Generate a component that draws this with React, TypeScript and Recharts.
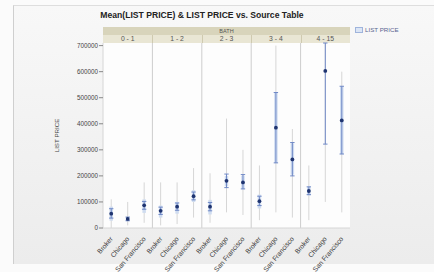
import React from "react";
import {
  ComposedChart,
  Scatter,
  ErrorBar,
  XAxis,
  YAxis,
  CartesianGrid,
  ReferenceLine,
} from "recharts";

// ---- data ----
const GROUPS = ["0 - 1", "1 - 2", "2 - 3", "3 - 4", "4 - 15"];
const SOURCES = ["Broker", "Chicago", "San Francisco"];
const CATEGORIES = GROUPS.flatMap(() => SOURCES);
const MEAN = [55000, 35000, 87000, 66000, 82000, 122000, 82000, 181000, 175000, 103000, 385000, 263000, 142000, 603000, 413000];
const CI_LOW = [38000, 28000, 72000, 52000, 68000, 108000, 66000, 155000, 150000, 86000, 250000, 200000, 128000, 322000, 284000];
const CI_HIGH = [74000, 42000, 102000, 80000, 96000, 138000, 98000, 207000, 205000, 122000, 520000, 328000, 158000, 710000, 544000];
const CLUSTER_LOW = [28000, 26000, 58000, 40000, 55000, 100000, 52000, 160000, 150000, 75000, 250000, 205000, 125000, 603000, 284000];
const CLUSTER_HIGH = [82000, 42000, 110000, 86000, 100000, 145000, 108000, 200000, 200000, 128000, 520000, 325000, 158000, 603000, 544000];
const RAW_LOW = [0, 10000, 20000, 10000, 15000, 40000, 20000, 60000, 50000, 30000, 60000, 40000, 30000, 100000, 60000];
const RAW_HIGH = [110000, 100000, 175000, 175000, 175000, 230000, 210000, 420000, 300000, 240000, 700000, 380000, 240000, 710000, 600000];
const Y_TICKS = [0, 100000, 200000, 300000, 400000, 500000, 600000, 700000];
const GROUP_TICKS = [1, 4, 7, 10, 13];
const GROUP_BOUNDS = [2.5, 5.5, 8.5, 11.5];

const data = CATEGORIES.map((label, i) => ({
  idx: i,
  label,
  mean: MEAN[i],
  ci: [MEAN[i] - CI_LOW[i], CI_HIGH[i] - MEAN[i]],
  cluster: [MEAN[i] - CLUSTER_LOW[i], CLUSTER_HIGH[i] - MEAN[i]],
  raw: [MEAN[i] - RAW_LOW[i], RAW_HIGH[i] - MEAN[i]],
}));

const FONT = "'Liberation Sans', Arial, sans-serif";

const XTick = (props: any) => {
  const { x, y, payload } = props;
  return (
    <text
      transform={`translate(${x + 2},${y + 3}) rotate(-50)`}
      textAnchor="end"
      fontSize={6.8}
      fontFamily={FONT}
      fill="#3a3a3a"
    >
      {CATEGORIES[payload.value]}
    </text>
  );
};

const GroupTick = (props: any) => {
  const { x, y, payload } = props;
  return (
    <text x={x} y={y + 6} textAnchor="middle" fontSize={6.8} fontFamily={FONT} fill="#555">
      {GROUPS[GROUP_TICKS.indexOf(payload.value)]}
    </text>
  );
};

const MeanDot = (props: any) => {
  const { cx, cy } = props;
  return <circle cx={cx} cy={cy} r={1.9} fill="#1f3470" />;
};

const PLOT_L = 103;
const PLOT_R = 350;

export default function App() {
  const groupW = (PLOT_R - PLOT_L) / 5;
  return (
    <div
      style={{
        position: "absolute",
        left: 0,
        top: 0,
        width: 434,
        height: 272,
        background: "#fbfbfb",
        overflow: "hidden",
      }}
    >
      <div
        style={{
          position: "absolute",
          left: 13,
          top: 5,
          width: 421,
          height: 258,
          borderLeft: "1px solid #cfcfcf",
          borderTop: "1px solid #dedede",
          background: "linear-gradient(#f8f8f8, #ececec)",
        }}
      />
      {/* header band */}
      <div style={{ position: "absolute", left: PLOT_L, top: 27, width: PLOT_R - PLOT_L, height: 8, background: "#d8d4bb" }} />
      <div style={{ position: "absolute", left: PLOT_L, top: 35, width: PLOT_R - PLOT_L, height: 8, background: "#e9e6d4" }} />
      {GROUP_BOUNDS.map((b, i) => (
        <div
          key={i}
          style={{
            position: "absolute",
            left: PLOT_L + groupW * (i + 1),
            top: 35,
            width: 1,
            height: 8,
            background: "#cfcab0",
          }}
        />
      ))}
      <div
        style={{
          position: "absolute",
          left: PLOT_L,
          top: 27.5,
          width: PLOT_R - PLOT_L,
          textAlign: "center",
          fontFamily: FONT,
          fontSize: 5.5,
          color: "#555",
          lineHeight: "7px",
        }}
      >
        BATH
      </div>
      {/* title */}
      <div
        style={{
          position: "absolute",
          left: 0,
          top: 10,
          width: 404,
          textAlign: "center",
          fontFamily: FONT,
          fontWeight: "bold",
          fontSize: 8.6,
          color: "#222",
          lineHeight: "10px",
        }}
      >
        Mean(LIST PRICE) &amp; LIST PRICE vs. Source Table
      </div>
      {/* legend */}
      <div
        style={{
          position: "absolute",
          left: 355,
          top: 26,
          display: "flex",
          alignItems: "center",
          fontFamily: FONT,
          fontSize: 6.2,
          color: "#5a6590",
        }}
      >
        <span
          style={{
            display: "inline-block",
            width: 6,
            height: 4,
            background: "#dbe5f5",
            border: "1px solid #9fb4dc",
            marginRight: 2,
          }}
        />
        LIST PRICE
      </div>
      <div style={{ position: "absolute", left: 0, top: 0 }}>
        <ComposedChart
          width={434}
          height={272}
          data={data}
          margin={{ top: 35, right: 84, bottom: 4, left: 50 }}
        >
          <CartesianGrid horizontal={false} vertical={false} fill="#fdfdfd" stroke="#ddd" />
          <XAxis
            xAxisId="main"
            type="number"
            dataKey="idx"
            domain={[-0.5, 14.5]}
            ticks={CATEGORIES.map((_, i) => i)}
            tick={<XTick />}
            tickLine={false}
            axisLine={{ stroke: "#d6d6d6" }}
            height={40}
            interval={0}
            allowDataOverflow
          />
          <XAxis
            xAxisId="top"
            orientation="top"
            type="number"
            dataKey="idx"
            domain={[-0.5, 14.5]}
            ticks={GROUP_TICKS}
            tick={<GroupTick />}
            tickLine={false}
            axisLine={false}
            height={8}
            interval={0}
          />
          <YAxis
            type="number"
            domain={[0, 710000]}
            ticks={Y_TICKS}
            allowDataOverflow
            width={53}
            tickSize={4}
            tickMargin={1}
            interval={0}
            tick={{ fontSize: 6.3, fontFamily: FONT, fill: "#444" }}
            tickLine={{ stroke: "#888" }}
            axisLine={{ stroke: "#d6d6d6" }}
            label={{
              value: "LIST PRICE",
              angle: -90,
              position: "insideLeft",
              offset: 7,
              style: { fontSize: 6.2, fontFamily: FONT, fill: "#444", textAnchor: "middle" },
            }}
          />
          {GROUP_BOUNDS.map((b) => (
            <ReferenceLine key={b} xAxisId="main" x={b} stroke="#cdcdcd" strokeWidth={1} />
          ))}
          <Scatter
            xAxisId="main"
            dataKey="mean"
            isAnimationActive={false}
            shape={() => null}
          >
            <ErrorBar dataKey="raw" direction="y" width={0} stroke="#d6d6d6" strokeWidth={1} />
          </Scatter>
          <Scatter
            xAxisId="main"
            dataKey="mean"
            isAnimationActive={false}
            shape={() => null}
          >
            <ErrorBar dataKey="cluster" direction="y" width={0} stroke="#cfdcf0" strokeWidth={3.5} />
          </Scatter>
          <Scatter
            xAxisId="main"
            dataKey="mean"
            isAnimationActive={false}
            shape={<MeanDot />}
          >
            <ErrorBar dataKey="ci" direction="y" width={2.2} stroke="#7089c6" strokeWidth={1} />
          </Scatter>
        </ComposedChart>
      </div>
    </div>
  );
}
